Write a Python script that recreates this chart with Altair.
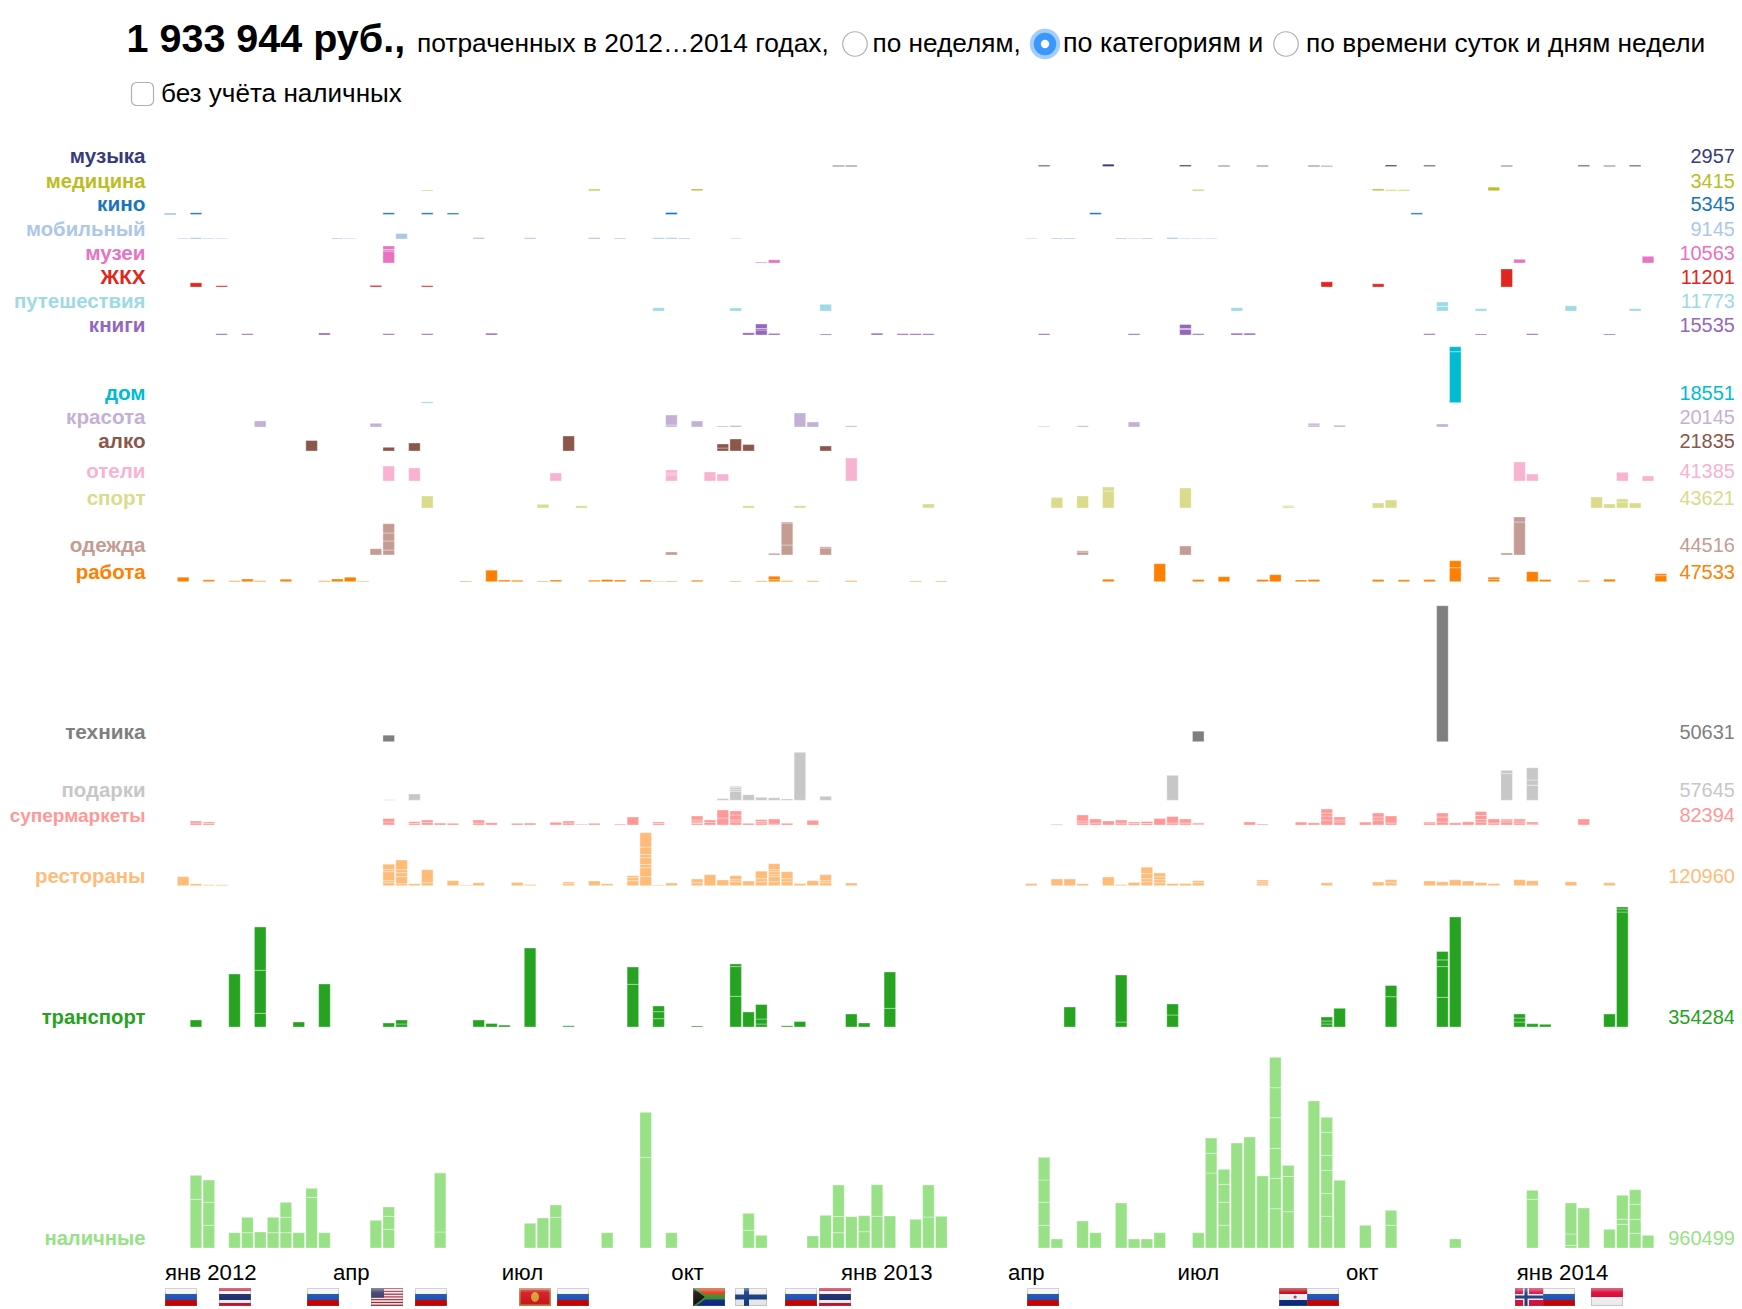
import base64
import altair as alt
import pandas as pd

W, H = 1726, 1299
RUB_PER_UNIT = 330
FONT = "Liberation Sans"

names = ["музыка", "медицина", "кино", "мобильный", "музеи", "ЖКХ", "путешествия", "книги", "дом", "красота", "алко",
         "отели", "спорт", "одежда", "работа", "техника", "подарки", "супермаркеты", "рестораны", "транспорт", "наличные"]
name_sizes = [20.6, 20.2, 20.8, 20.3, 20.6, 20.6, 20.4, 20.6, 20.6, 20.6, 20.6, 20.6, 20.6, 20.6, 20.4, 20.8, 20.4, 19.0, 20.4, 20.3, 20.2]
totals = [2957, 3415, 5345, 9145, 10563, 11201, 11773, 15535, 18551, 20145, 21835,
          41385, 43621, 44516, 47533, 50631, 57645, 82394, 120960, 354284, 960499]
colors = ["#393b79", "#bcbd22", "#1a75bb", "#aec7e8", "#e773c2", "#df2620", "#9edae5", "#9467bd", "#00bcd0", "#c5b0d5", "#8c564b",
          "#f8b2d2", "#dbdb8d", "#c49c94", "#ff7f00", "#7f7f7f", "#c7c7c7", "#ff9896", "#ffbb78", "#25a321", "#98e187"]
row_base = [166.5, 190.7, 214.5, 239, 263, 287, 311, 335, 402.7, 427, 451,
            481, 508, 555, 581.7, 741.7, 800.3, 825, 885.7, 1027, 1248]

# weekly spending per category, in units of RUB_PER_UNIT; a list is a stack of single purchases
music = {52: 1, 53: 1, 68: 1.3, 73: 2.3, 79: 1.5, 82: 1, 85: 1, 89: 1, 90: .7, 95: 1.5, 98: 1.3, 104: 1, 110: 1.3, 112: 1, 114: 1.3}
medicine = {20: .7, 33: 1.5, 41: 1.7, 80: 1.2, 94: 1.7, 95: .9, 96: .9, 103: 3.5}
cinema = {0: 1, 2: 1.7, 17: 1.7, 20: 1.7, 22: 1.5, 39: 2, 72: 1.8, 97: 1.6}
mobile = {1: .8, 2: 1.4, 3: .8, 4: .7, 13: 1, 14: .7, 18: 5.5, 24: 1.5, 28: 1.3, 33: 1.5, 35: 1, 38: 1.3, 39: 1.3, 40: 1, 44: .7,
          67: .7, 69: 1, 70: 1, 74: 1, 75: .7, 76: 1, 78: 1.5, 79: .7, 80: .7, 81: .7}
museum = {17: [12, 1.5, 3.5], 46: .9, 47: 3.2, 105: 3.7, 115: 6.7}
utility = {2: 4.2, 4: 1.3, 16: 1.6, 20: 1.3, 90: 5.2, 94: 3.2, 104: 18}
travel = {38: 3.2, 44: 3, 51: 6.7, 83: 3.2, 99: [4.5, 4.5], 102: 2.3, 109: 5.2, 114: 2.3}
books = {4: 1.3, 6: 1.3, 12: 2, 17: 1.3, 20: 1.3, 25: 1.8, 45: 2.2, 46: [5, 1.5, 4.5], 47: 1.6, 51: 1,
         55: 1.8, 57: 1.3, 58: 1.3, 59: 1.3, 68: 1.3, 75: 1.3, 79: [5.5, 1, 4], 80: 1.3, 83: 1.8, 84: 1.8, 98: 1.3, 102: 1, 106: 1.3, 112: 1}
home = {20: .7, 100: [51, 5]}
beauty = {7: 6, 16: 3.7, 39: [2, 10], 41: 6, 43: 1, 44: 1.5, 49: 14, 50: 5, 53: 1.2, 68: .7, 71: 1.2, 75: 5, 89: [2, 1.7], 91: 1.7, 99: 3}
alcohol = {11: 10.5, 17: 3.7, 19: 8, 31: 15, 43: [3, 4], 44: 12, 45: 6.5, 51: 5}
hotels = {17: 15, 19: 13, 30: 8, 39: [6, 2, 3], 42: 9, 43: 7, 53: 23, 105: 19, 106: 7, 113: 8.7, 115: 5}
sport = {20: 12, 29: 3.7, 32: 2.2, 45: 2.2, 49: 2.2, 59: 4, 69: 10.5, 71: 12, 73: [17, 4], 79: 20, 87: [1.3, 1.2], 94: 5, 95: 8,
         111: 11, 112: 4, 113: [6, 3], 114: 5}
clothes = {16: 6.3, 17: [5, 9, 8, 9.3], 39: 3, 47: 1.7, 48: [10, 22, 1], 51: [7, 1.2], 71: [3, 1.2], 79: 9, 104: 2, 105: [33, 5]}
work = {1: 4.5, 3: 1.9, 5: .9, 6: 2.7, 7: .9, 9: 2.5, 12: .9, 13: 2.7, 14: 4.5, 15: .6, 23: .7, 25: 11.5, 26: 1.7, 27: 1.5, 29: .7, 30: 1.7,
        33: 1.5, 34: 2.2, 35: 1.7, 37: 1.7, 38: .5, 39: .7, 41: 1.5, 44: .7, 46: .8, 47: [2, 3.5], 48: .9, 50: .8, 53: .9,
        58: .7, 60: .7, 73: 2.5, 77: 18, 80: 2.2, 82: 5, 85: 2.2, 86: 7, 88: 1.7, 89: 2.2, 94: 2.2, 96: 1.9, 98: 2.2, 100: [14, 7],
        103: [2.3, 2.2], 106: 10, 107: 2.2, 110: 1.2, 112: 2.5, 116: [6, 2]}
tech = {17: 6.5, 80: 10.5, 99: 136}
gifts = {17: .6, 19: 6.3, 43: 1.7, 44: [9, 2, 2, 1], 45: 5.5, 46: 3, 47: 2.5, 48: 1.4, 49: 48, 51: 4, 78: 25, 104: [26.7, 3.3], 106: [15, 5.3, 12.2]}
markets = {2: [2, 2], 3: [1.5, 1.5], 17: [3, 3.5], 19: [1.5, 1.8], 20: [2.5, 2.5], 21: 1.9, 22: 1.7, 24: [2, 3], 25: 2.2, 27: 1.7, 28: 1.9, 30: 2.7, 31: [2, 2],
           32: .7, 33: 1.7, 35: .9, 36: 8, 38: [1.5, 1.5], 41: [1.5, 1.5, 2, 4], 42: [2.5, 2.5], 43: [7, 8], 44: [3, 2, 5, 4], 45: 1.7, 46: [2, 1.5, 2], 47: [1, 5], 48: 1.7, 50: 4.7,
           69: .7, 71: [2, 2, 6], 72: [2, 4], 73: 4, 74: [2, 3], 75: [1.5, 1.5], 76: [1.5, 2], 77: 6.5, 78: [2, 6.5], 79: [2, 4], 80: [1, 1],
           84: 3, 85: .9, 88: 2.9, 89: 2.2, 90: [5, 4, 3, 4], 91: [3, 2, 3], 93: 2.9, 94: [5, 3, 4], 95: [2, 7],
           98: [2, 1], 99: [3, 5, 4], 100: 2.2, 101: 3.2, 102: [3, 2.5, 4, 4], 103: [2, 4], 104: [3, 2, 1], 105: [2, 2, 2], 106: [1, 2], 110: 6}
food = {1: 9, 2: 1.9, 3: .9, 4: .9, 17: [3, 2, 9, 2, 5.5], 18: [2, 7, 4, 3, 9.7], 19: 1.9, 20: [3, 13], 22: 5, 23: .7, 24: 2.9, 27: 3.2, 28: 1.2,
        31: [2, 1.7], 33: 4.7, 34: 1.9, 36: [5, 3, 2], 37: [9, 9, 3.3, 6.7, 3.3, 7.3, 14.4], 38: .7, 39: 2.7, 41: [3, 3.7], 42: 11, 43: 5.7, 44: [4, 2, 4],
        45: 4.7, 46: [4, 3, 7.5], 47: [4, 5, 2, 3, 2, 6], 48: [4, 3, 7], 49: 2.2, 50: 5, 51: [3, 2, 6], 53: 2.7,
        67: 2.2, 69: 6.7, 70: 6.7, 71: 1.9, 73: 8.7, 74: 1.2, 75: 3.2, 76: [4, 3, 5, 6.5], 77: [3, 3, 3, 3.7], 78: 2.2, 79: 2.2, 80: [3, 2],
        85: [2, 2, 1.7], 90: 2.9, 94: 3.7, 95: [3, 3], 98: 4.7, 99: 3.9, 100: 5.9, 101: 4.7, 102: 3.2, 103: 2.2, 105: 6, 106: 4.9, 109: 3.9, 112: 2.9}
transport = {2: 7, 5: 53, 7: [13.7, 43, 43.3], 10: 5, 12: 43, 17: 4, 18: [3, 4], 24: 7, 25: 3.5, 26: 1.9, 28: 79, 31: 1.2, 36: [42.7, 17.3], 38: [8.3, 7, 5.7], 41: 1,
             44: [30.7, 29.7, 2.7], 45: 15, 46: [3, 5, 14.5], 48: 1.2, 49: 5.5, 53: 13, 54: 4, 56: [18.7, 36.3], 70: 20, 74: [5, 47], 78: [12, 11], 90: [3, 3, 4], 91: 18.7,
             95: [30.3, 11.2], 99: [29.7, 30.7, 6.7, 8.4], 100: 110, 105: [5, 4, 4], 106: 3.3, 107: 2.7, 112: 13, 113: [115, 3, 2]}
cash = {2: [48.7, 24], 3: [22.7, 23, 22.3], 5: 15.3, 6: [15.3, 15.4], 7: 16, 8: [15.3, 15.4], 9: [15.3, 15.4, 15], 10: 15.3, 11: [50.7, 9], 12: 15.3,
        16: 27.7, 17: [18.7, 13, 9.3], 21: [16, 59], 28: 24.7, 29: 30, 30: [30.7, 12.3], 34: 15.3, 37: [90.7, 45], 39: 15.3, 45: [17.7, 17], 46: 12.7,
        50: 12, 51: 32.7, 52: [15.3, 16.3, 31.4], 53: 31.3, 54: [16.3, 16], 55: [31.7, 31.6], 56: 32, 58: 28.7, 59: [31, 32], 60: 31.7,
        68: [22.7, 23, 22.3, 22.7], 69: 9, 71: 27, 72: 15.3, 74: 45, 75: 9, 76: 9, 77: 15.3, 80: 15.3, 81: [75, 19.7, 15.3], 82: [22.7, 23, 18, 15],
        83: 105, 84: 111, 85: 72, 86: [39.3, 30.3, 30, 30.7, 30, 30.4], 87: [36.3, 35.3, 11], 89: 147, 90: [31.7, 22.7, 23.3, 15, 23, 15], 91: 67.7, 93: 22.7,
        95: [22.7, 15], 100: 9, 106: [48.7, 9], 109: [2.7, 11.3, 31], 110: 40, 112: 18.7, 113: [23.7, 5, 24], 114: [14.7, 14, 15, 14.6], 115: 12.7}

series = [music, medicine, cinema, mobile, museum, utility, travel, books, home, beauty, alcohol,
          hotels, sport, clothes, work, tech, gifts, markets, food, transport, cash]

month_labels = ["янв 2012", "апр", "июл", "окт", "янв 2013", "апр", "июл", "окт", "янв 2014"]
month_weeks = [0, 13.07, 26.2, 39.4, 52.6, 65.6, 78.8, 91.9, 105.2]

flag_codes = ["ru", "th", "ru", "us", "ru", "me", "ru", "za", "fi", "ru", "th", "ru", "py", "ru", "no", "ru", "mc"]
flag_weeks = [0, 4.2, 11.05, 16.03, 19.45, 27.55, 30.5, 41.1, 44.36, 48.25, 50.9, 67.08, 86.7, 88.87, 105.06, 107.24, 110.97]

GLOSS = ('<defs><linearGradient id="g" x1="0" y1="0" x2="0" y2="1"><stop offset="0" stop-color="#fff" stop-opacity=".45"/>'
         '<stop offset=".25" stop-color="#fff" stop-opacity=".08"/><stop offset="1" stop-color="#000" stop-opacity=".05"/></linearGradient></defs>')
def R(x, y, w, h, c):
    return f'<rect x="{x}" y="{y}" width="{w}" height="{h}" fill="{c}"/>'
art = {
    "ru": R(0, 0, 32, 6, "#f4f4f4") + R(0, 6, 32, 6, "#1a4fb5") + R(0, 12, 32, 6, "#cc0000"),
    "th": R(0, 0, 32, 3, "#d01030") + R(0, 3, 32, 3, "#f4f4f4") + R(0, 6, 32, 6, "#1a2a6c") + R(0, 12, 32, 3, "#f4f4f4") + R(0, 15, 32, 3, "#d01030"),
    "us": "".join(R(0, 1.385 * i, 32, 1.385, "#b22234" if i % 2 == 0 else "#f4f4f4") for i in range(13)) + R(0, 0, 13, 9.7, "#3c3b6e"),
    "me": R(0, 0, 32, 18, "#c8963c") + R(1.5, 1.5, 29, 15, "#d3141c") + '<ellipse cx="16" cy="9" rx="4" ry="5" fill="#d8a030"/>',
    "za": R(0, 0, 32, 9, "#e03c10") + R(0, 9, 32, 9, "#0a2a8c") + R(0, 6.5, 32, 5, "#3d8a2a") +
          '<polygon points="0,0 12,9 0,18" fill="#111"/><polygon points="0,0 3,0 15,9 3,18 0,18 12,9" fill="#3d8a2a"/>',
    "fi": R(0, 0, 32, 18, "#f0f0f0") + R(9, 0, 5, 18, "#123a84") + R(0, 6.5, 32, 5, "#123a84"),
    "py": R(0, 0, 32, 6, "#c00010") + R(0, 6, 32, 6, "#f4f4f4") + R(0, 12, 32, 6, "#0a2a80") + '<circle cx="16" cy="9" r="1.6" fill="#a04050"/>',
    "no": R(0, 0, 32, 18, "#d81040") + R(8, 0, 6, 18, "#f0f0f0") + R(0, 6, 32, 6, "#f0f0f0") + R(9.5, 0, 3, 18, "#203a80") + R(0, 7.5, 32, 3, "#203a80"),
    "mc": R(0, 0, 32, 9, "#dc0030") + R(0, 9, 32, 9, "#f6f6f6"),
}
def flag_uri(code):
    svg = ('<svg xmlns="http://www.w3.org/2000/svg" width="32" height="18" viewBox="0 0 32 18" preserveAspectRatio="none">' + GLOSS + art[code] +
           '<rect width="32" height="18" fill="url(#g)"/><rect x=".5" y=".5" width="31" height="17" fill="none" stroke="#777" stroke-opacity=".3"/></svg>')
    return "data:image/svg+xml;base64," + base64.b64encode(svg.encode()).decode()

def to_y(page_y):
    return (H - (page_y - 8)) * RUB_PER_UNIT

rows = []
for base, col, s in zip(row_base, colors, series):
    for week, v in s.items():
        cum = 0.0
        for seg in (v if isinstance(v, list) else [v]):
            rows.append({"week": week - 0.04, "week2": week + 0.86,
                         "y0": to_y(base) + cum * RUB_PER_UNIT,
                         "y1": to_y(base) + (cum + seg) * RUB_PER_UNIT,
                         "spent": seg * RUB_PER_UNIT, "color": col})
            cum += seg
bars = pd.DataFrame(rows)

x_scale = alt.Scale(domain=[-157 / 12.85, (W - 157) / 12.85], nice=False, zero=False)
y_scale = alt.Scale(domain=[0, H * RUB_PER_UNIT], nice=False, zero=False)

bar_layer = alt.Chart(bars).mark_rect(stroke="white", strokeWidth=1, strokeOpacity=0.35).encode(
    x=alt.X("week:Q", scale=x_scale, axis=None), x2="week2:Q",
    y=alt.Y("y0:Q", scale=y_scale, axis=None), y2="y1:Q",
    fill=alt.Fill("color:N", scale=None))

labels = pd.DataFrame({"name": names, "size": name_sizes, "total": [str(t) for t in totals], "color": colors, "y": [to_y(b) for b in row_base]})
left_labels = alt.Chart(labels).mark_text(font=FONT, fontWeight="bold", align="right", baseline="alphabetic", dy=-3.2).encode(
    x=alt.value(137.5), y=alt.Y("y:Q", scale=y_scale, axis=None), text="name:N", size=alt.Size("size:Q", scale=None),
    color=alt.Color("color:N", scale=None))
right_labels = alt.Chart(labels).mark_text(font=FONT, fontSize=20, align="right", baseline="alphabetic", dy=-3.2).encode(
    x=alt.value(1727), y=alt.Y("y:Q", scale=y_scale, axis=None), text="total:N", color=alt.Color("color:N", scale=None))

months = pd.DataFrame({"label": month_labels, "week": month_weeks})
month_layer = alt.Chart(months).mark_text(font=FONT, fontSize=22.2, align="left", baseline="alphabetic", color="#000").encode(
    x=alt.X("week:Q", scale=x_scale, axis=None), y=alt.value(1280 - 8), text="label:N")

flags = pd.DataFrame({"week": flag_weeks, "url": [flag_uri(c) for c in flag_codes]})
flag_layer = alt.Chart(flags).mark_image(width=32, height=18, aspect=False, align="left", baseline="top").encode(
    x=alt.X("week:Q", scale=x_scale, axis=None), y=alt.value(1288 - 8), url="url:N")

one = pd.DataFrame({"a": [0]})
def text(s, x, y, size, bold=False):
    return alt.Chart(one).mark_text(text=s, font=FONT, fontSize=size, fontWeight="bold" if bold else "normal",
                                    align="left", baseline="alphabetic", color="#000").encode(x=alt.value(x - 8), y=alt.value(y - 8))
def radio(x, y=44):
    return alt.Chart(one).mark_point(shape="circle", filled=True, fill="#fff", size=600, stroke="#b0b0b0", strokeWidth=1.2, opacity=1).encode(
        x=alt.value(x - 8), y=alt.value(y - 8))

header = [
    text("1 933 944 руб.,", 126.5, 51.5, 39.5, True),
    text("потраченных в 2012…2014 годах,", 417, 52, 26.35),
    text("по неделям,", 872.5, 52, 26.2),
    text("по категориям и", 1063, 52, 26.9),
    text("по времени суток и дням недели", 1306, 52, 26.3),
    text("без учёта наличных", 161, 102, 26.1),
    radio(855), radio(1286),
    alt.Chart(one).mark_point(shape="circle", filled=True, fill="#3a97fc", size=700, stroke="#a3cdfb", strokeWidth=4, opacity=1).encode(
        x=alt.value(1045 - 8), y=alt.value(44 - 8)),
    alt.Chart(one).mark_point(shape="circle", filled=True, fill="#fff", size=70, opacity=1).encode(x=alt.value(1045 - 8), y=alt.value(44 - 8)),
    alt.Chart(one).mark_rect(fill="#fff", stroke="#b0b0b0", strokeWidth=1.2, cornerRadius=5).encode(
        x=alt.value(131.5 - 8), x2=alt.value(153.5 - 8), y=alt.value(82.5 - 8), y2=alt.value(105.5 - 8)),
]

chart = alt.layer(bar_layer, left_labels, right_labels, month_layer, flag_layer, *header).properties(
    width=W, height=H, padding=0, autosize=alt.AutoSizeParams(type="none"), background="white"
).configure_view(stroke=None)

chart.save("out.html", embed_options={"renderer": "svg", "actions": False})
